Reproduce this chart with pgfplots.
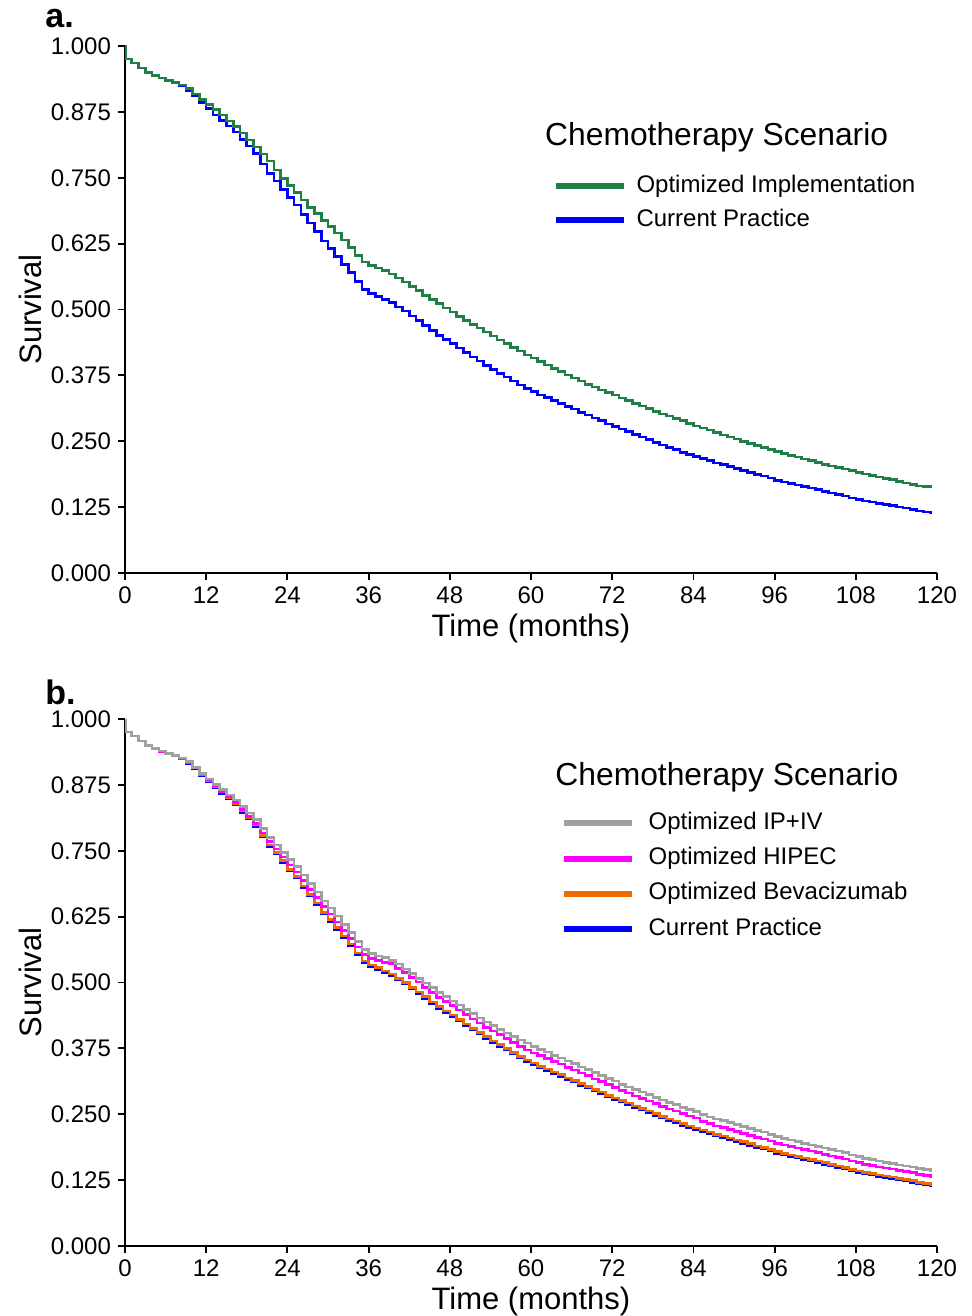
\documentclass[border=0pt]{standalone}
\usepackage{fontspec}
\setmainfont{Liberation Sans}
\usepackage{pgfplots}
\usepackage{pgfplotstable}
\pgfplotsset{compat=1.18}

\definecolor{optgreen}{RGB}{31,128,71}
\definecolor{curblue}{RGB}{0,0,255}
\definecolor{ipgray}{RGB}{160,160,160}
\definecolor{hipmag}{RGB}{255,0,255}
\definecolor{bevorange}{RGB}{237,108,0}

% panel a: optimized implementation vs current practice
\pgfplotstableread{
t opt cur
0 1.000 1.000
0.15 0.975 0.975
1 0.968 0.968
2 0.958 0.958
3 0.950 0.950
4 0.944 0.944
5 0.939 0.939
6 0.935 0.935
7 0.931 0.931
8 0.926 0.924
9 0.919 0.915
10 0.909 0.905
11 0.898 0.893
12 0.889 0.881
13 0.879 0.869
14 0.869 0.859
15 0.858 0.848
16 0.847 0.837
17 0.835 0.823
18 0.822 0.810
19 0.808 0.796
20 0.795 0.776
21 0.782 0.758
22 0.765 0.744
23 0.749 0.728
24 0.735 0.712
25 0.722 0.698
26 0.708 0.680
27 0.694 0.664
28 0.682 0.648
29 0.669 0.630
30 0.658 0.616
31 0.645 0.601
32 0.632 0.585
33 0.618 0.570
34 0.602 0.553
35 0.590 0.538
36 0.584 0.530
37 0.579 0.525
38 0.574 0.519
39 0.567 0.513
40 0.560 0.505
41 0.552 0.497
42 0.544 0.488
43 0.536 0.479
44 0.527 0.470
45 0.519 0.460
46 0.511 0.451
47 0.503 0.443
48 0.495 0.435
49 0.487 0.427
50 0.479 0.418
51 0.472 0.410
52 0.465 0.402
53 0.457 0.394
54 0.450 0.386
55 0.442 0.379
56 0.435 0.372
57 0.428 0.364
58 0.421 0.357
59 0.414 0.350
60 0.408 0.344
61 0.401 0.338
62 0.395 0.333
63 0.388 0.327
64 0.382 0.322
65 0.376 0.316
66 0.370 0.311
67 0.364 0.305
68 0.358 0.300
69 0.353 0.294
70 0.347 0.289
71 0.342 0.283
72 0.338 0.278
73 0.332 0.273
74 0.327 0.268
75 0.322 0.263
76 0.317 0.258
77 0.312 0.253
78 0.307 0.248
79 0.302 0.243
80 0.298 0.238
81 0.293 0.234
82 0.289 0.229
83 0.284 0.225
84 0.279 0.221
85 0.275 0.217
86 0.271 0.213
87 0.267 0.209
88 0.262 0.206
89 0.258 0.202
90 0.254 0.198
91 0.250 0.195
92 0.246 0.191
93 0.242 0.187
94 0.238 0.184
95 0.234 0.180
96 0.230 0.176
97 0.227 0.173
98 0.223 0.170
99 0.220 0.167
100 0.216 0.164
101 0.213 0.161
102 0.210 0.158
103 0.206 0.155
104 0.203 0.152
105 0.200 0.149
106 0.197 0.146
107 0.194 0.142
108 0.191 0.139
109 0.188 0.137
110 0.185 0.135
111 0.182 0.132
112 0.179 0.130
113 0.177 0.128
114 0.174 0.125
115 0.171 0.123
116 0.168 0.121
117 0.165 0.118
118 0.164 0.116
119 0.164 0.114
119.3 0.164 0.114
}\survA

% panel b: IP+IV, HIPEC, bevacizumab, current practice
\pgfplotstableread{
t ipiv hipec bev cur
0 1.000 1.000 1.000 1.000
0.15 0.975 0.975 0.975 0.975
1 0.968 0.968 0.968 0.968
2 0.958 0.958 0.958 0.958
3 0.950 0.950 0.950 0.950
4 0.944 0.943 0.944 0.944
5 0.939 0.938 0.939 0.939
6 0.935 0.935 0.935 0.935
7 0.931 0.931 0.931 0.931
8 0.926 0.925 0.925 0.924
9 0.919 0.918 0.917 0.915
10 0.908 0.907 0.907 0.905
11 0.897 0.896 0.895 0.893
12 0.886 0.884 0.883 0.881
13 0.876 0.873 0.872 0.869
14 0.866 0.863 0.862 0.859
15 0.856 0.852 0.851 0.848
16 0.846 0.841 0.840 0.837
17 0.834 0.828 0.826 0.823
18 0.822 0.815 0.813 0.810
19 0.809 0.802 0.799 0.796
20 0.792 0.784 0.779 0.776
21 0.775 0.767 0.761 0.758
22 0.761 0.753 0.747 0.744
23 0.747 0.738 0.731 0.728
24 0.733 0.723 0.715 0.712
25 0.720 0.710 0.701 0.698
26 0.704 0.693 0.683 0.680
27 0.688 0.677 0.667 0.664
28 0.672 0.661 0.651 0.648
29 0.655 0.644 0.633 0.630
30 0.641 0.630 0.619 0.616
31 0.626 0.615 0.604 0.601
32 0.610 0.599 0.588 0.585
33 0.595 0.584 0.573 0.570
34 0.578 0.567 0.556 0.553
35 0.563 0.553 0.541 0.538
36 0.555 0.546 0.533 0.530
37 0.550 0.542 0.528 0.525
38 0.547 0.538 0.522 0.519
39 0.542 0.536 0.516 0.513
40 0.535 0.527 0.508 0.505
41 0.526 0.519 0.500 0.497
42 0.517 0.510 0.491 0.488
43 0.508 0.501 0.482 0.479
44 0.499 0.491 0.473 0.470
45 0.490 0.481 0.463 0.460
46 0.481 0.472 0.454 0.451
47 0.473 0.464 0.446 0.443
48 0.465 0.456 0.438 0.435
49 0.457 0.448 0.430 0.427
50 0.449 0.439 0.421 0.418
51 0.441 0.431 0.413 0.410
52 0.433 0.423 0.405 0.402
53 0.425 0.415 0.397 0.394
54 0.418 0.408 0.389 0.386
55 0.411 0.401 0.382 0.379
56 0.404 0.394 0.375 0.372
57 0.397 0.386 0.367 0.364
58 0.391 0.379 0.360 0.357
59 0.385 0.372 0.353 0.350
60 0.379 0.366 0.347 0.344
61 0.373 0.361 0.341 0.338
62 0.368 0.356 0.336 0.333
63 0.362 0.350 0.330 0.327
64 0.357 0.345 0.325 0.322
65 0.351 0.339 0.319 0.316
66 0.346 0.334 0.314 0.311
67 0.340 0.328 0.308 0.305
68 0.335 0.323 0.303 0.300
69 0.329 0.317 0.297 0.294
70 0.324 0.312 0.292 0.289
71 0.318 0.306 0.286 0.283
72 0.313 0.301 0.281 0.278
73 0.307 0.295 0.276 0.273
74 0.302 0.290 0.271 0.268
75 0.297 0.285 0.266 0.263
76 0.292 0.280 0.261 0.258
77 0.287 0.275 0.256 0.253
78 0.282 0.270 0.251 0.248
79 0.277 0.265 0.246 0.243
80 0.272 0.260 0.241 0.238
81 0.268 0.256 0.237 0.234
82 0.263 0.251 0.232 0.229
83 0.259 0.247 0.228 0.225
84 0.255 0.243 0.224 0.221
85 0.249 0.236 0.220 0.217
86 0.245 0.232 0.216 0.213
87 0.241 0.228 0.212 0.209
88 0.238 0.225 0.209 0.206
89 0.234 0.221 0.205 0.202
90 0.230 0.217 0.201 0.198
91 0.227 0.214 0.198 0.195
92 0.223 0.210 0.194 0.191
93 0.219 0.206 0.190 0.187
94 0.216 0.203 0.187 0.184
95 0.212 0.199 0.183 0.180
96 0.208 0.195 0.179 0.176
97 0.204 0.192 0.176 0.173
98 0.201 0.189 0.173 0.170
99 0.198 0.186 0.170 0.167
100 0.195 0.183 0.167 0.164
101 0.192 0.180 0.164 0.161
102 0.189 0.177 0.161 0.158
103 0.186 0.174 0.158 0.155
104 0.183 0.171 0.155 0.152
105 0.180 0.168 0.152 0.149
106 0.177 0.165 0.149 0.146
107 0.173 0.161 0.145 0.142
108 0.170 0.158 0.142 0.139
109 0.166 0.155 0.140 0.137
110 0.164 0.153 0.138 0.135
111 0.161 0.150 0.135 0.132
112 0.159 0.148 0.133 0.130
113 0.157 0.146 0.131 0.128
114 0.154 0.143 0.128 0.125
115 0.152 0.141 0.126 0.123
116 0.150 0.139 0.124 0.121
117 0.147 0.136 0.121 0.118
118 0.145 0.134 0.119 0.116
119 0.143 0.132 0.117 0.114
119.3 0.143 0.132 0.117 0.114
}\survB

\pgfplotsset{
  kmaxis/.style={
    scale only axis,
    width=406pt, height=263.5pt,
    xmin=0, xmax=120, ymin=0, ymax=1,
    axis x line=bottom, axis y line=left,
    axis line style={-, line width=0.9pt},
    xtick={0,12,24,36,48,60,72,84,96,108,120},
    ytick={0,0.125,0.25,0.375,0.5,0.625,0.75,0.875,1},
    tick align=outside, major tick length=3.5pt,
    tick style={line width=0.9pt, black},
    /pgf/number format/assume math mode=true,
    yticklabel style={/pgf/number format/fixed,
      /pgf/number format/fixed zerofill,
      /pgf/number format/precision=3},
    ticklabel style={font=\fontsize{12}{14}\selectfont},
    xlabel={Time (months)}, ylabel={Survival},
    label style={font=\fontsize{15.5}{18}\selectfont},
    xlabel style={at={(axis description cs:0.5,-0.106)}, anchor=center},
    ylabel style={at={(axis description cs:-0.117,0.5)}, anchor=center},
    legend cell align=left,
    legend image code/.code={\draw[line width=3pt] (0pt,0pt) -- (34pt,0pt);},
    every axis plot/.append style={const plot, no marks, line width=1.3pt},
  },
}

\begin{document}
\begin{tikzpicture}
\useasboundingbox (-62.5pt,-371.5pt) rectangle (423pt,286.5pt);

\begin{axis}[kmaxis,
  legend style={draw=none, fill=none, inner sep=0pt,
    at={(rel axis cs:0.526,0.757)}, anchor=north west,
    font=\fontsize{12}{14}\selectfont,
    nodes={inner sep=0pt, text height=9pt, text depth=3pt},
    row sep=5pt,
    /tikz/every odd column/.append style={column sep=5pt}},
  reverse legend]
  \addplot[curblue] table[x=t, y=cur] {\survA};
  \addplot[optgreen] table[x=t, y=opt] {\survA};
  \legend{Current Practice, Optimized Implementation}
  \node[anchor=west, inner sep=0pt, font=\fontsize{15.9}{18}\selectfont]
    at (rel axis cs:0.517,0.827) {Chemotherapy Scenario};
\end{axis}

\begin{axis}[kmaxis, at={(0,-336.5pt)},
  legend style={draw=none, fill=none, inner sep=0pt,
    at={(rel axis cs:0.536,0.826)}, anchor=north west,
    font=\fontsize{12}{14}\selectfont,
    nodes={inner sep=0pt, text height=9pt, text depth=3pt},
    row sep=5.7pt,
    /tikz/every odd column/.append style={column sep=7pt}},
  reverse legend]
  \addplot[curblue] table[x=t, y=cur] {\survB};
  \addplot[bevorange] table[x=t, y=bev] {\survB};
  \addplot[hipmag] table[x=t, y=hipec] {\survB};
  \addplot[ipgray] table[x=t, y=ipiv] {\survB};
  \legend{Current Practice, Optimized Bevacizumab, Optimized HIPEC, Optimized IP+IV}
  \node[anchor=west, inner sep=0pt, font=\fontsize{15.9}{18}\selectfont]
    at (rel axis cs:0.5296,0.890) {Chemotherapy Scenario};
\end{axis}

\node[anchor=west, inner sep=0pt, font=\bfseries\fontsize{17}{20}\selectfont] at (-40pt,277pt) {a.};
\node[anchor=west, inner sep=0pt, font=\bfseries\fontsize{17}{20}\selectfont] at (-40pt,-59.5pt) {b.};
\end{tikzpicture}
\end{document}
